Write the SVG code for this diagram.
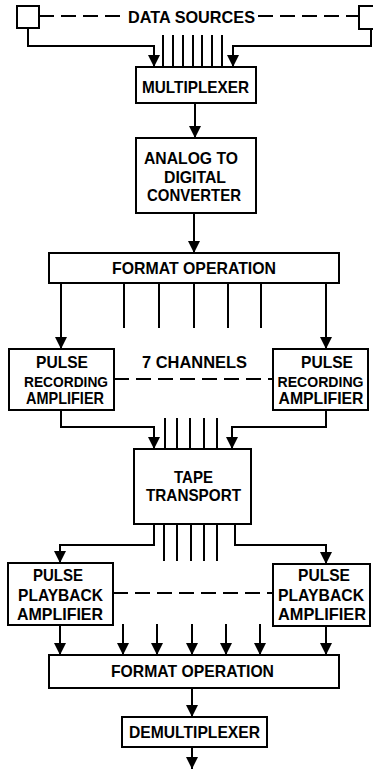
<svg xmlns="http://www.w3.org/2000/svg" width="373" height="769" viewBox="0 0 373 769">
  <defs>
    <marker id="arrow" markerUnits="userSpaceOnUse" markerWidth="12" markerHeight="12" refX="12" refY="6" orient="auto">
      <path d="M0,0 L12,6 L0,12 Z" fill="#000"/>
    </marker>
    <style>
      .box { fill: #fff; stroke: #000; stroke-width: 2; }
      .wire { fill: none; stroke: #000; stroke-width: 2; }
      .arr { fill: none; stroke: #000; stroke-width: 2; marker-end: url(#arrow); }
      .dash { fill: none; stroke: #000; stroke-width: 2; stroke-dasharray: 15 7; }
      text { font-family: "Liberation Sans", Arial, sans-serif; font-weight: bold; font-size: 16.5px; fill: #000; }
      .tight { font-size: 15px; }
    </style>
  </defs>
  <rect width="373" height="769" fill="#fff"/>

  <!-- connectors -->
  <g id="connectors">
    <!-- data sources to multiplexer -->
    <path class="dash" d="M39,16 H126"/>
    <path class="dash" d="M258,16 H359"/>
    <path class="arr" d="M28,28 V46 H154 V67"/>
    <path class="arr" d="M371,29 V46 H233 V67"/>
    <path class="wire" d="M163,35 V67 M173,35 V67 M183,35 V67 M193,35 V67 M202,35 V67 M212,35 V67 M222,35 V67"/>
    <!-- main chain -->
    <path class="arr" d="M195,103 V138"/>
    <path class="arr" d="M194,213 V253"/>
    <!-- format operation to recording amplifiers -->
    <path class="arr" d="M61,283 V349"/>
    <path class="arr" d="M326,283 V349"/>
    <path class="wire" d="M124,283 V328 M159,283 V328 M194,283 V328 M228,283 V328 M261,283 V328"/>
    <path class="dash" d="M114,379 H273"/>
    <!-- recording amplifiers to tape transport -->
    <path class="arr" d="M61,410 V427 H154 V449"/>
    <path class="arr" d="M326,410 V427 H232 V449"/>
    <path class="wire" d="M165,418 V449 M177,418 V449 M190,418 V449 M204,418 V449 M217,418 V449"/>
    <!-- tape transport to playback amplifiers -->
    <path class="arr" d="M154,524 V545 H60 V563"/>
    <path class="arr" d="M235,524 V545 H326 V564"/>
    <path class="wire" d="M164,524 V561 M177,524 V561 M191,524 V561 M204,524 V561 M217,524 V561"/>
    <path class="dash" d="M113,593 H273"/>
    <!-- playback amplifiers to format operation -->
    <path class="arr" d="M60,625 V655"/>
    <path class="arr" d="M123,624 V655"/>
    <path class="arr" d="M157,624 V655"/>
    <path class="arr" d="M192,624 V655"/>
    <path class="arr" d="M226,624 V655"/>
    <path class="arr" d="M260,624 V655"/>
    <path class="arr" d="M326,626 V655"/>
    <path class="arr" d="M192,688 V717"/>
    <path class="arr" d="M192,747 V769"/>
  </g>

  <!-- nodes -->
  <g id="source-left"><rect class="box" x="17" y="6" width="22" height="22"/></g>
  <g id="source-right"><rect class="box" x="359" y="6" width="20" height="23"/></g>
  <g id="data-sources-label"><text x="191.5" y="23" text-anchor="middle" textLength="127" lengthAdjust="spacingAndGlyphs">DATA  SOURCES</text></g>

  <g id="multiplexer">
    <rect class="box" x="136" y="67" width="120" height="36"/>
    <text x="195.5" y="93" text-anchor="middle" textLength="107" lengthAdjust="spacingAndGlyphs">MULTIPLEXER</text>
  </g>

  <g id="adc">
    <rect class="box" x="136" y="138" width="120" height="75"/>
    <text x="191" y="164" text-anchor="middle" textLength="94" lengthAdjust="spacingAndGlyphs">ANALOG TO</text>
    <text x="195" y="183" text-anchor="middle" textLength="62" lengthAdjust="spacingAndGlyphs">DIGITAL</text>
    <text x="194" y="201" text-anchor="middle" textLength="94" lengthAdjust="spacingAndGlyphs">CONVERTER</text>
  </g>

  <g id="format-record">
    <rect class="box" x="49" y="253" width="290" height="30"/>
    <text x="194" y="274" text-anchor="middle" textLength="164" lengthAdjust="spacingAndGlyphs">FORMAT OPERATION</text>
  </g>

  <g id="record-amp-left">
    <rect class="box" x="9" y="349" width="105" height="61"/>
    <text x="62" y="368" text-anchor="middle" textLength="52" lengthAdjust="spacingAndGlyphs">PULSE</text>
    <text class="tight" x="66" y="387" text-anchor="middle" textLength="84" lengthAdjust="spacingAndGlyphs">RECORDING</text>
    <text x="65" y="404" text-anchor="middle" textLength="78" lengthAdjust="spacingAndGlyphs">AMPLIFIER</text>
  </g>

  <g id="channels-label"><text x="194.5" y="368" text-anchor="middle" textLength="105" lengthAdjust="spacingAndGlyphs">7 CHANNELS</text></g>

  <g id="record-amp-right">
    <rect class="box" x="273" y="349" width="95" height="61"/>
    <text x="327" y="368" text-anchor="middle" textLength="52" lengthAdjust="spacingAndGlyphs">PULSE</text>
    <text class="tight" x="320.5" y="387" text-anchor="middle" textLength="86" lengthAdjust="spacingAndGlyphs">RECORDING</text>
    <text x="321" y="404" text-anchor="middle" textLength="85" lengthAdjust="spacingAndGlyphs">AMPLIFIER</text>
  </g>

  <g id="tape-transport">
    <rect class="box" x="134" y="449" width="117" height="75"/>
    <text x="193.5" y="483" text-anchor="middle" textLength="39" lengthAdjust="spacingAndGlyphs">TAPE</text>
    <text x="193.5" y="501" text-anchor="middle" textLength="95" lengthAdjust="spacingAndGlyphs">TRANSPORT</text>
  </g>

  <g id="playback-amp-left">
    <rect class="box" x="8" y="563" width="105" height="62"/>
    <text x="58" y="581" text-anchor="middle" textLength="50" lengthAdjust="spacingAndGlyphs">PULSE</text>
    <text x="60.5" y="601" text-anchor="middle" textLength="85" lengthAdjust="spacingAndGlyphs">PLAYBACK</text>
    <text x="60" y="620" text-anchor="middle" textLength="86" lengthAdjust="spacingAndGlyphs">AMPLIFIER</text>
  </g>

  <g id="playback-amp-right">
    <rect class="box" x="273" y="564" width="97" height="62"/>
    <text x="324" y="581" text-anchor="middle" textLength="52" lengthAdjust="spacingAndGlyphs">PULSE</text>
    <text x="321" y="601" text-anchor="middle" textLength="86" lengthAdjust="spacingAndGlyphs">PLAYBACK</text>
    <text x="322" y="620" text-anchor="middle" textLength="88" lengthAdjust="spacingAndGlyphs">AMPLIFIER</text>
  </g>

  <g id="format-playback">
    <rect class="box" x="49" y="655" width="290" height="33"/>
    <text x="192.5" y="677" text-anchor="middle" textLength="163" lengthAdjust="spacingAndGlyphs">FORMAT OPERATION</text>
  </g>

  <g id="demultiplexer">
    <rect class="box" x="122" y="717" width="145" height="30"/>
    <text x="194.5" y="738" text-anchor="middle" textLength="131" lengthAdjust="spacingAndGlyphs">DEMULTIPLEXER</text>
  </g>
</svg>
